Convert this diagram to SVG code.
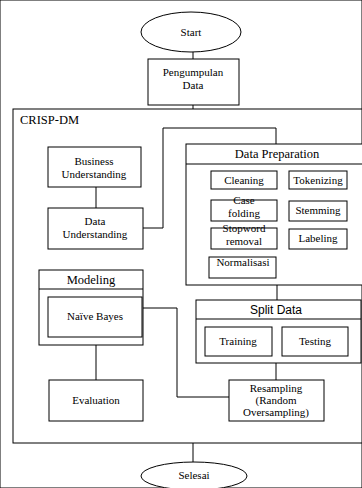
<svg xmlns="http://www.w3.org/2000/svg" width="362" height="488" viewBox="0 0 362 488">
<style>
rect, ellipse, path, line { fill: none; stroke: #000; stroke-width: 1; }
rect.f, ellipse.f { fill: #fff; }
text { font-family: 'Liberation Serif', 'Times New Roman', serif; font-size: 11px; fill: #000; text-anchor: middle; }
text.s { font-family: 'Liberation Sans', Arial, sans-serif; font-size: 12px; }
text.h { font-size: 12.5px; }
</style>
<rect width="362" height="488" fill="#fff" stroke="none"/>
<g id="connectors">
<line x1="193" y1="52" x2="193" y2="59"/>
<line x1="193" y1="104" x2="193" y2="109"/>
<line x1="96" y1="187" x2="96" y2="208"/>
<path d="M143 228 H163 V128 H276 V144"/>
<line x1="277" y1="285" x2="277" y2="300"/>
<line x1="96" y1="345" x2="96" y2="380"/>
<path d="M143 308 H177 V397 H229"/>
<line x1="276" y1="363" x2="276" y2="380"/>
<line x1="193" y1="443" x2="193" y2="462"/>
</g>
<g id="start">
<ellipse class="f" cx="191" cy="32" rx="50" ry="20"/>
<text x="191" y="36">Start</text>
</g>
<g id="pengumpulan">
<rect class="f" x="148" y="59" width="91" height="46"/>
<text x="193" y="76">Pengumpulan</text>
<text x="193" y="89">Data</text>
</g>
<g id="crisp-dm">
<rect x="13" y="109" width="352" height="334"/>
<text x="20" y="124" style="text-anchor:start" class="h">CRISP-DM</text>
</g>
<g id="business">
<rect class="f" x="48" y="147" width="93" height="40"/>
<text x="94" y="165">Business</text>
<text x="94" y="178">Understanding</text>
</g>
<g id="data-understanding">
<rect class="f" x="48" y="208" width="95" height="41"/>
<text x="95" y="225">Data</text>
<text x="95" y="238">Understanding</text>
</g>
<g id="data-preparation">
<rect class="f" x="186" y="144" width="180" height="141"/>
<line x1="186" y1="164" x2="362" y2="164"/>
<text x="277" y="158" class="h">Data Preparation</text>
</g>
<g id="cleaning">
<rect x="211" y="171" width="66" height="18"/>
<text x="244" y="184">Cleaning</text>
</g>
<g id="tokenizing">
<rect x="289" y="171" width="58" height="18"/>
<text x="318" y="184">Tokenizing</text>
</g>
<g id="case-folding">
<rect x="211" y="200" width="66" height="21"/>
<text x="244" y="204">Case</text>
<text x="244" y="217">folding</text>
</g>
<g id="stemming">
<rect x="289" y="201" width="58" height="20"/>
<text x="318" y="214">Stemming</text>
</g>
<g id="stopword">
<rect x="211" y="228" width="66" height="21"/>
<text x="244" y="232">Stopword</text>
<text x="244" y="245">removal</text>
</g>
<g id="labeling">
<rect x="289" y="229" width="58" height="20"/>
<text x="318" y="242">Labeling</text>
</g>
<g id="normalisasi">
<rect x="209" y="257" width="67" height="21"/>
<text x="243" y="266">Normalisasi</text>
</g>
<g id="modeling">
<rect class="f" x="39" y="270" width="104" height="75"/>
<line x1="39" y1="289" x2="143" y2="289"/>
<text x="91" y="284" class="h">Modeling</text>
</g>
<g id="naive-bayes">
<rect x="48" y="297" width="94" height="40"/>
<text x="95" y="320">Naïve Bayes</text>
</g>
<g id="split-data">
<rect class="f" x="196" y="300" width="165" height="63"/>
<line x1="196" y1="319" x2="361" y2="319"/>
<text x="276" y="314" class="s">Split Data</text>
</g>
<g id="training">
<rect x="205" y="327" width="67" height="29"/>
<text x="238" y="345">Training</text>
</g>
<g id="testing">
<rect x="282" y="327" width="66" height="29"/>
<text x="315" y="345">Testing</text>
</g>
<g id="evaluation">
<rect class="f" x="49" y="380" width="94" height="41"/>
<text x="96" y="404">Evaluation</text>
</g>
<g id="resampling">
<rect class="f" x="229" y="380" width="95" height="41"/>
<text x="276" y="392">Resampling</text>
<text x="276" y="404">(Random</text>
<text x="276" y="416">Oversampling)</text>
</g>
<g id="selesai">
<ellipse class="f" cx="194" cy="476" rx="53" ry="14"/>
<text x="194" y="479">Selesai</text>
</g>
</svg>
